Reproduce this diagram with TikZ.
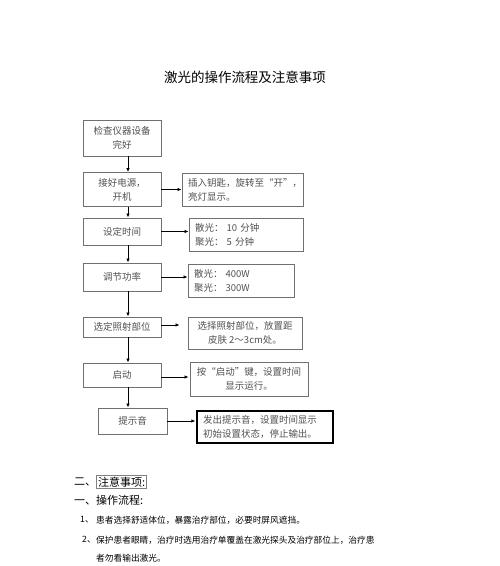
\documentclass[tikz,border=0pt]{standalone}
\usepackage{fontspec}
\setmainfont{Noto Sans CJK SC}
\usetikzlibrary{positioning,arrows.meta}
\definecolor{boxline}{HTML}{707070}
\definecolor{boxtext}{HTML}{505050}

\begin{document}
\begin{tikzpicture}[x=1pt, y=-1pt,
    box/.style={draw=boxline, line width=0.9pt, text=boxtext, inner sep=0pt,
      align=center, font=\fontsize{9.5}{14}\selectfont},
    lbox/.style={box, align=left, inner xsep=6pt},
    flow/.style={line width=0.8pt, -{Latex[length=4pt,width=3.5pt]}}]
  \useasboundingbox (0,0) rectangle (500,566);
  \coordinate (col) at (128,0);

  \node[font=\fontsize{13.5}{16}\selectfont] (title) at (245,77) {激光的操作流程及注意事项};

  % left column
  \node[box, minimum width=78, minimum height=36] (check) at (122,138) {检查仪器设备\\完好};
  \node[box, minimum width=78, minimum height=34] (power) at (122,189.5) {接好电源，\\开机};
  \node[box, minimum width=78, minimum height=27] (timer) at (122,231.5) {设定时间};
  \node[box, minimum width=78, minimum height=28] (watt) at (122,277) {调节功率};
  \node[box, minimum width=78, minimum height=20] (part) at (122,327) {选定照射部位};
  \node[box, minimum width=78, minimum height=24] (start) at (122,375) {启动};
  \node[box, minimum width=69, minimum height=26] (beep) at (132.5,421) {提示音};

  % right column
  \node[lbox, text width=109, minimum height=33] (key) at (242.5,189.5) {插入钥匙，旋转至“开”，\\亮灯显示。};
  \node[lbox, text width=102, minimum height=33] (mins) at (246,234.5) {散光：\ 10 分钟\\聚光：\ 5 分钟};
  \node[lbox, text width=94, minimum height=33] (level) at (241,280.5) {散光：\ 400W\\聚光：\ 300W};
  \node[box, minimum width=114, minimum height=32] (place) at (245,333) {选择照射部位，放置距\\皮肤 2～3cm处。};
  \node[box, minimum width=118, minimum height=34] (run) at (249,379) {按“启动”键，设置时间\\显示运行。};
  \node[lbox, draw=black, line width=1.3pt, text width=124, minimum height=32] (stop) at (265,427) {发出提示音，设置时间显示\\初始设置状态，停止输出。};

  \draw[flow] (check.south -| col) -- (power.north -| col);
  \draw[flow] (power.south -| col) -- (timer.north -| col);
  \draw[flow] (timer.south -| col) -- (watt.north -| col);
  \draw[flow] (watt.south -| col) -- (part.north -| col);
  \draw[flow] (part.south -| col) -- (start.north -| col);
  \draw[flow] (start.south -| col) -- (beep.north -| col);

  \draw[flow] (power.east) -- (power.east -| key.west);
  \draw[flow] (timer.east) -- (timer.east -| mins.west);
  \draw[flow] (watt.east) -- (watt.east -| level.west);
  \draw[flow, shorten >=8pt] ([yshift=2]part.east) -- ([yshift=2]part.east -| place.west);
  \draw[flow, shorten >=1pt] ([yshift=-2]start.east) -- ([yshift=-2]start.east -| run.west);
  \draw[flow, shorten >=1pt] (beep.east) -- (beep.east -| stop.west);

  % notes below
  \node[anchor=west, font=\fontsize{11}{13}\selectfont, inner sep=0pt] (sec2) at (74,482) {二、};
  \node[draw=gray, line width=0.5pt, font=\fontsize{11}{13}\selectfont, inner sep=1.5pt, right=0pt of sec2] (sec2b) {注意事项:};
  \node[anchor=west, font=\fontsize{11}{13}\selectfont, inner sep=0pt] (sec1) at (74,500) {一、操作流程:};
  \node[anchor=west, font=\fontsize{8.7}{11}\selectfont, inner sep=0pt] (n1) at (80,520) {1、};
  \node[anchor=west, font=\fontsize{8.7}{11}\selectfont, inner sep=0pt] (t1) at (96,520) {患者选择舒适体位，暴露治疗部位，必要时屏风遮挡。};
  \node[anchor=west, font=\fontsize{8.7}{11}\selectfont, inner sep=0pt] (n2) at (82,540) {2、};
  \node[anchor=west, font=\fontsize{8.7}{11}\selectfont, inner sep=0pt] (t2) at (96,540) {保护患者眼睛，治疗时选用治疗单覆盖在激光探头及治疗部位上，治疗患};
  \node[anchor=west, font=\fontsize{8.7}{11}\selectfont, inner sep=0pt] (t3) at (96,558) {者勿看输出激光。};
\end{tikzpicture}
\end{document}
